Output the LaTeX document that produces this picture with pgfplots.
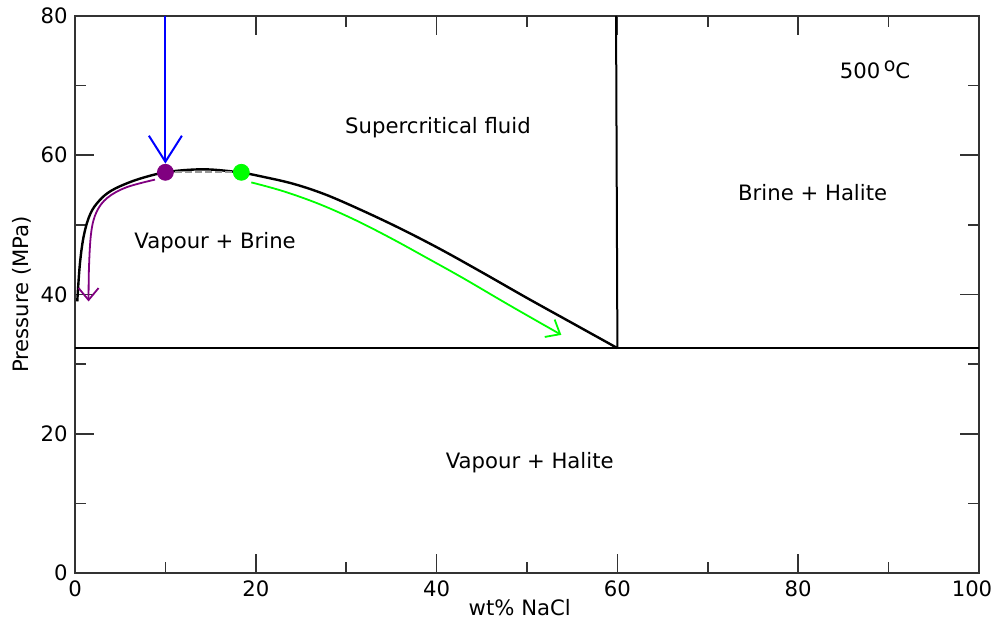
\documentclass[border=0pt]{standalone}
\usepackage{pgfplots}
\pgfplotsset{compat=1.18}
\usepackage{fontspec}
\setmainfont{DejaVu Sans}
\usetikzlibrary{arrows.meta}
\definecolor{cpurple}{HTML}{800080}
\definecolor{cgreen}{HTML}{00FF00}
\definecolor{cblue}{HTML}{0000FF}
\begin{document}
\fontsize{10.6}{13}\selectfont
\begin{tikzpicture}
\begin{axis}[
 scale only axis, width=452pt, height=278.5pt,
 xmin=0,xmax=100,ymin=0,ymax=80,
 xtick={0,20,...,100}, ytick={0,20,...,80},
 xticklabels={0,20,40,60,80,{\hspace*{-7pt}100}},
 minor xtick={10,30,...,90}, minor ytick={10,30,50,70},
 major tick length=9.5pt, minor tick length=5.5pt,
 tick style={black!80, line width=0.8pt},
 axis line style={black!80, line width=0.8pt},
 /pgf/number format/assume math mode=true,
 xlabel={wt\% NaCl}, ylabel={Pressure (MPa)},
 xlabel style={at={(axis description cs:0.492,-0.063)},anchor=center},
 ylabel style={at={(axis description cs:-0.059,0.5)},anchor=center},
 clip=true,
]
% three-phase line
\addplot[black, line width=1pt] coordinates {(0,32.3) (100,32.3)};
% halite saturation
\addplot[black, line width=1pt] coordinates {(60,32.3) (59.85,80)};
% two-phase boundary
\addplot[black, line width=1.2pt, smooth, tension=0.6] coordinates {
(0.25,39.0) (0.55,44.5) (1.0,48.6) (1.7,51.6) (2.7,53.5) (4,54.9) (6,56.1) (8,56.95)
(10,57.55) (12.5,57.9) (15,57.95) (18.4,57.5) (21,56.85) (24,55.95) (27,54.7)
(30,53.1) (35,50.1) (40,46.8) (45,43.2) (50,39.5) (55,35.9) (60,32.3)};
% tie line
\addplot[black!40, line width=1pt, dash pattern=on 3.5pt off 1.5pt] coordinates {(10,57.6) (18.4,57.6)};
% blue arrow
\addplot[cblue, line width=1pt, -{Straight Barb[length=13pt,width=16.5pt]}] coordinates {(10,80) (10,58.8)};
% purple arrow
\addplot[cpurple, line width=0.9pt, smooth, tension=0.6, -{Straight Barb[length=6pt,width=10pt]}] coordinates {
(8.85,56.5) (5.7,55.4) (3.6,53.9) (2.4,51.9) (1.8,49) (1.55,44) (1.5,39.0)};
% green arrow
\addplot[cgreen, line width=0.9pt, smooth, tension=0.6, -{Straight Barb[length=6pt,width=10pt]}] coordinates {
(19.5,56.1) (23,54.85) (27,53.0) (31,50.7) (35,48.05) (39,45.2) (43,42.3) (48,38.5) (53.8,34.2)};
% dots
\addplot[only marks, mark=*, mark size=4pt, cpurple] coordinates {(10,57.55)};
\addplot[only marks, mark=*, mark size=4pt, cgreen] coordinates {(18.4,57.55)};
% labels
\node at (axis cs:40.15,63.9) {Supercritical fluid};
\node at (axis cs:81.6,54.7) {Brine + Halite};
\node at (axis cs:15.5,47.4) {Vapour + Brine};
\node at (axis cs:50.3,15.9) {Vapour + Halite};
\node at (axis cs:88.5,72.3) {500\,\raisebox{0.6ex}{\fontsize{9.5}{10}\selectfont o}C};
\end{axis}
\pgfresetboundingbox
\path ([xshift=-37.5pt,yshift=-25pt]current axis.south west) rectangle ([xshift=7.5pt,yshift=8pt]current axis.north east);
\end{tikzpicture}
\end{document}
